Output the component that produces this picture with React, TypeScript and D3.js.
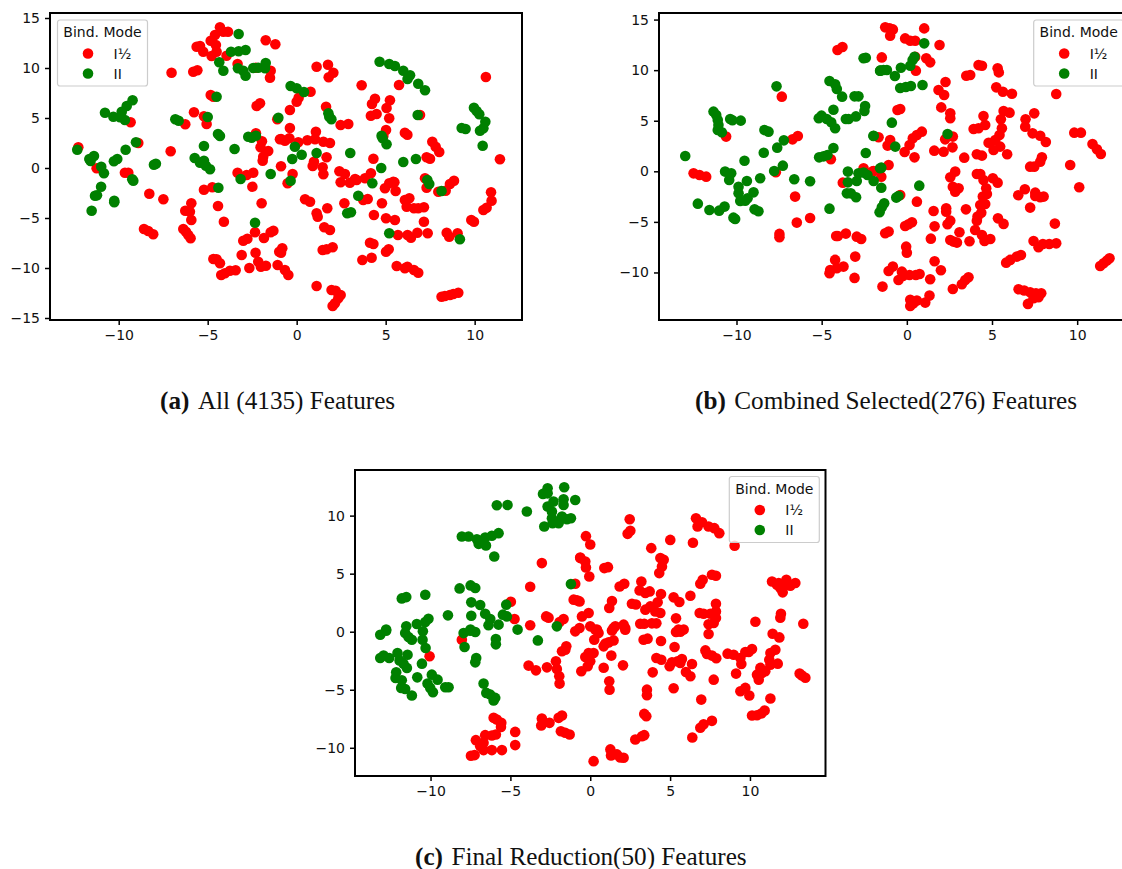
import * as d3 from "d3";
import { useEffect, useRef } from "react";

type Pt = [number, number];

const seriesNames = ["I½", "II"];
const seriesColors = ["red", "green"];
const legendTitle = "Bind. Mode";

// (a) All (4135) Features
const redA: Pt[] = [
  [-12.27,2.07],[-7.03,9.53],[-5.81,9.63],[-5.58,9.77],[-7.08,1.67],[-11.24,-0.03],[-9.33,4.57],[-8.9,2.5],[-9.65,-0.47],[-9.46,-0.47],
  [-6.26,4.37],[-5.77,5.57],[-5.21,5.17],[-5.06,4.4],[-4.83,7.3],[-4.68,7.13],[-5.62,12.13],[-5.43,12.2],[-5.25,11.63],[-4.83,12.73],
  [-4.59,13.3],[-4.31,14.07],[-4.12,13.63],[-3.86,13.63],[-4.54,12.3],[-4.5,11.63],[-4.78,11.2],[-3.94,11.23],[-3.32,10.4],[-1.74,12.77],
  [-1.2,12.37],[-1.46,9.73],[-1.5,9.03],[-2.29,10.03],[-2.25,6.2],[-2.06,6.47],[-2.29,3.47],[-1.95,2.67],[-2.03,2.07],[-1.6,1.7],
  [-1.88,1.13],[-1.91,0.73],[-3.32,-0.47],[-2.81,-0.7],[-2.44,-0.47],[-0.94,2.87],
  [1.12,10.13],[1.76,10.33],[2.06,9.53],[1.8,9.07],[0.78,7.63],[0.11,7.03],[0,6.63],[-0.38,5.8],[-1.09,4.87],[3.65,8.27],
  [5.75,8.3],[10.63,9.1],[4.4,6.93],[4.23,6.4],[5.24,6.77],[5.05,6],[4.17,5.23],[4.49,5.4],[5.2,4.97],[1.65,6.13],
  [2.47,4.3],[2.9,4.4],[5.02,3.8],[4.87,3.2],[6.08,3.53],[6.22,3.33],[7.62,2.63],[7.81,2.13],[8.01,1.6],[7.3,1.07],
  [7.49,0.93],[6.93,5.3],[11.42,0.87],[-0.38,4],[-0.88,2.9],[-0.66,2.73],[-0.41,2.97],[0.09,2.57],[0.6,2.77],[1.03,2.87],
  [1.08,3.63],[1.5,2.63],[1.87,2.5],[1.68,1.07],[0.97,0.63],[0.9,0.2],[1.46,0.07],[1.5,-0.63],[-0.88,0.17],[-0.23,-0.6],
  [4.31,0.93],[2.4,-0.33],[2.71,-0.6],[4.17,-0.53],[3.84,-1.03],[3.28,-1.1],[5.43,-1.37],[7.21,-1.03],
  [-8.28,-2.57],[-7.49,-3.13],[-8.58,-6.1],[-8.34,-6.3],[-8.06,-6.63],[-6.37,-6.1],[-6.22,-6.37],[-6.09,-6.7],[-5.96,-7.03],[-6.26,-4.27],
  [-6,-4.37],[-5.92,-3.53],[-5.92,-5.2],[-5.21,-2.17],[-4.74,-1.93],[-4.42,-3.8],[-4.09,-5.37],[-2.49,-1.87],[-1.97,-3.53],[-2.34,-6.43],
  [-1.84,-7],[-3,-7.27],[-2.77,-7.07],[-1.46,-6.43],[-1.31,-6.27],[-2.31,-8.47],[-3.09,-8.7],[-2.16,-9.37],[-2.01,-9.87],[-1.73,-9.77],
  [-1.07,-9.7],[-4.68,-9.1],[-4.5,-9.13],[-4.31,-9.53],[-4.24,-10.7],[-4.03,-10.53],[-3.75,-10.27],[-3.43,-10.23],[-2.66,-10],[-0.98,-8.37],
  [-0.51,-1.53],[2.47,-1.43],[2.99,-1.47],[3.37,-1.2],[4.96,-2.03],[5.2,-1.53],[5.49,-1.43],[5.56,-2.3],[7.3,-1.97],[7.96,-2.37],
  [8.37,-2.27],[8.61,-1.6],[8.84,-1.27],[3.74,-3.2],[3.99,-3.1],[2.68,-3.53],[1.72,-4.03],[0.47,-3.13],[0.75,-3.37],[1.12,-4.53],
  [1.18,-4.87],[4.79,-3.53],[6.08,-3.2],[6.33,-3.03],[6.18,-3.87],[6.59,-4.03],[6.83,-4.03],[7.15,-3.93],[4.34,-4.7],[5.02,-5.03],
  [5.52,-5.2],[7.15,-5.37],[9.81,-5.2],[9.96,-5.37],[10.49,-4.2],[10.67,-3.97],[10.95,-3.27],[10.92,-2.43],[1.55,-5.93],[1.87,-6.2],
  [5.69,-6.7],[6.23,-6.7],[6.42,-6.97],[6.78,-6.47],[7.36,-6.53],[8.43,-6.47],[8.57,-6.87],[9.04,-6.53],[4.12,-7.47],[4.31,-7.6],
  [-0.81,-8.03],[-0.88,-8.47],[2.02,-7.93],[1.68,-8.13],[1.46,-8.2],[5.02,-8.37],[5.17,-8.13],[3.69,-9.2],[4.21,-8.97],[5.62,-9.8],
  [6.08,-10.03],[6.22,-9.87],[6.59,-10.2],[6.83,-10.47],[-0.66,-10.2],[-0.47,-10.7],[1.12,-11.8],[1.96,-12.2],[2.19,-12.27],[2.47,-12.7],
  [2.34,-13.03],[2.15,-13.53],[2.02,-13.8],[8.14,-12.87],[8.33,-12.8],[8.61,-12.7],[8.8,-12.6],[9.08,-12.47],
];
const greenA: Pt[] = [
  [-12.33,1.83],[-11.65,0.9],[-11.39,1.2],[-11.58,0.7],[-10.98,0.13],[-10.83,-0.53],[-10.27,0.67],[-10.08,0.9],[-9.61,1.83],[-9.03,2.57],
  [-10.77,5.53],[-10.3,5.13],[-9.93,5.07],[-9.65,4.8],[-9.83,5.63],[-9.55,6.2],[-9.22,6.77],[-8.02,0.33],[-7.91,0.43],[-6.82,4.87],
  [-6.63,4.73],[-5.73,1],[-5.43,0.53],[-5.21,0.73],[-5.1,0.23],[-4.87,-0.13],[-5,5.1],[-4.5,7.13],[-4.42,3.4],[-4.31,3.2],
  [-5.21,2.2],[-3.49,1.9],[-2.72,3.13],[-2.53,3.03],[-2.29,3.23],[-4.35,10.57],[-4.12,9.73],[-3.69,11.63],[-3.26,11.67],[-2.87,11.8],
  [-3.26,13.4],[-3.3,9.97],[-3,9.73],[-2.87,9.23],[-2.44,10],[-2.16,10.03],[-1.78,9.97],[-1.74,10.5],[-1.46,-0.6],[-3.15,-1.1],
  [-10.99,-1.87],[-11.33,-2.77],[-11.22,-2.73],[-11.52,-4.27],[-10.25,-3.27],[-10.25,-3.43],[-9.24,-1.13],[-9.18,-1.27],[-4.4,-1.97],[-2.34,-5.47],
  [-1.03,5.03],[-0.34,8.2],[0,7.97],[0.41,7.6],[1.78,5.47],[1.83,5.13],[1.95,4.87],[4.66,10.63],[5.2,10.4],[5.52,10.2],
  [5.99,9.73],[6.37,9.27],[6.23,8.9],[6.83,8.43],[7.21,7.77],[6.8,5.3],[9.96,6.03],[10.11,5.7],[10.26,5.37],[10.6,4.63],
  [10.49,3.97],[10.3,3.73],[9.27,4],[9.49,3.9],[10.45,2.23],[-0.1,2.13],[0.28,1.33],[-0.25,0.9],[1.12,1.5],[3.01,1.5],
  [4.75,0],[5.99,0.6],[6.7,0.9],[4.77,3.23],[4.83,2.97],[5.05,2.37],[-0.34,-1.27],[4.25,-1.53],[3.46,-2.77],[2.84,-4.53],
  [3.05,-4.43],[5.2,-6.53],[7.34,-1.2],[7.45,-1.6],[8.14,-2.3],[9.17,-7.13],
];

// (b) Combined Selected(276) Features
const redB: Pt[] = [
  [-4.07,11.99],[-3.78,12.29],[-7.34,7.38],[-10.61,3.43],[-6.71,3.16],[-6.4,3.49],[-4.46,1.19],[-12.52,-0.2],[-12.17,-0.36],[-11.78,-0.53],
  [-7.69,-0.1],[-1.47,11.26],[-1.66,3.36],[-2.54,0.3],[-1.96,0.03],[-3.76,-1.12],[-6.56,-2.5],[-7.48,-6.19],[-7.48,-6.52],[-6.46,-5.07],
  [-5.68,-4.61],[-4.15,-6.39],[-4.05,-6.39],[-3.58,-6.16],[-2.94,-6.46],[-2.68,-6.69],[-3.03,-8.43],[-4.21,-8.76],[-3.72,-9.42],[-4.11,-9.59],
  [-4.5,-9.75],[-4.54,-10.08],[-3.07,-10.54],
  [-1.27,14.23],[-1.01,14.13],[-0.82,14.03],[-0.98,13.41],[1.02,14.13],[-0.1,13.14],[0.2,12.91],[0.49,12.91],[1.92,12.48],[0.49,11.33],
  [1.14,11.17],[1.37,10.77],[0.53,9.95],[4.21,10.5],[4.41,10.44],[3.49,9.45],[3.72,9.52],[5.33,10.18],[5.4,9.78],[2.27,8.83],
  [1.86,8.04],[2.19,7.54],[5.25,8.3],[5.64,7.87],[6.17,7.67],[8.77,7.64],[-0.39,6.16],[-0.55,6.06],[2.02,6.32],[2.55,5.73],
  [2.55,5.24],[4.5,5.47],[4.6,4.58],[3.92,4.18],[4.21,4.25],[5.68,5.96],[6.03,5.8],[5.52,5.14],[5.58,4.25],[5.44,3.59],
  [5.19,3.1],[4.8,2.83],[5.48,2.44],[5.09,2.11],[5.89,1.68],[6.97,5.14],[6.95,4.41],[7.48,5.73],[7.38,3.75],[7.83,3.52],
  [8.16,2.9],[9.83,3.82],[10.22,3.82],[10.9,2.7],[11.16,2.17],[11.39,1.71],[9.59,0.63],[7.93,1.38],[7.83,0.95],[7.24,0.46],
  [7.48,0.46],[4.11,1.68],[4.41,1.55],[3.37,1.35],[1.61,2.04],[2.16,1.94],[2.68,2.37],[2.25,3.16],[2.7,3.43],[0.88,3.92],
  [0.59,3.59],[0.35,3.26],[0.16,2.6],[-0.13,1.91],[0.45,1.38],[-0.98,3.1],[-1.13,2.54],[-1.07,0.63],[-1.99,0],[-1.5,-0.53],
  [2.84,-0.03],[2.55,-0.59],[4.11,-0.26],[4.31,-0.26],[5.05,-0.69],
  [-2.15,-0.2],[-0.39,-2.34],[0.59,-3],[4.5,-0.86],[5.33,-1.12],[4.66,-1.68],[4.7,-2.24],[4.46,-2.5],[4.6,-3.23],[4.31,-3.33],
  [4.37,-4.09],[4.15,-4.48],[4.11,-4.88],[2.7,-1.52],[2.84,-2.01],[3.04,-1.68],[3.47,-3.76],[2.31,-3.66],[2.31,-3.99],[1.57,-3.92],
  [1.63,-5.44],[2.39,-5.24],[2.55,-4.88],[3.09,-6.03],[1.41,-6.66],[2.55,-6.79],[2.74,-6.95],[2.94,-7.05],[3.68,-6.92],[4.01,-5.8],
  [4.41,-6.29],[4.56,-6.89],[4.9,-6.69],[5.35,-4.65],[5.68,-5.2],[6.54,-2.37],[6.93,-1.78],[7.54,-2.11],[7.54,-2.44],[7.83,-2.57],
  [8.03,-2.5],[7.24,-3.59],[10.12,-1.58],[8.69,-5.17],[7.44,-6.89],[7.73,-7.51],[7.99,-7.18],[8.36,-7.18],[8.77,-7.12],[5.83,-9.03],
  [6.07,-8.76],[6.46,-8.43],[6.7,-8.27],[11.35,-9.36],[11.55,-9.09],[11.74,-8.83],[11.9,-8.6],[6.56,-11.66],[6.89,-11.79],[7.24,-11.96],
  [7.58,-12.06],[7.89,-12.06],[7.73,-12.45],[7.44,-12.55],[7.11,-13.11],[1.37,-10.67],[2,-9.78],[1.63,-8.89],[3.62,-10.48],[3.43,-10.74],
  [3.23,-11.17],[2.7,-11.63],[1.33,-12.29],[1.08,-12.98],[0.59,-12.78],[0.2,-12.71],[0.39,-13.05],[0.2,-13.31],[-1.43,-11.4],[-1.07,-9.85],
  [-0.82,-9.42],[-0.49,-10.74],[-0.29,-9.92],[-0.23,-10.34],[0.16,-10.25],[0.53,-10.25],[0.75,-10.15],[-0.04,-7.45],[0,-8.04],[-1.27,-6.13],
  [-1.07,-5.96],[-0.1,-5.4],[0.1,-5.24],[0.3,-5.04],
];
const greenB: Pt[] = [
  [-13.01,1.51],[-11.35,5.9],[-11.19,5.57],[-11.1,5.07],[-11.06,4.58],[-11.1,4.08],[-10.86,3.85],[-10.37,5.17],[-10.24,5.04],[-9.75,5.01],
  [-9.53,1.05],[-8.4,1.84],[-8.36,4.08],[-8.12,3.92],[-7.65,8.4],[-7.22,3.06],[-7.61,2.34],[-7.28,0.56],[-7.79,0.03],[-10.67,-0.03],
  [-10.31,-0.2],[-5.15,1.38],[-4.89,1.48],[-4.66,1.61],[-4.31,2.31],[-5.17,5.24],[-5.01,5.5],[-4.7,5.17],[-4.44,4.84],[-4.21,4.25],
  [-4.31,6.09],[-4.54,8.93],[-4.21,8.6],[-4.11,8.14],[-3.8,7.38],[-3.07,7.41],[-2.84,7.41],[-3.58,5.17],[-3.42,5.17],[-2.99,5.43],
  [-2.49,5.96],[-2.45,6.46],[-2.54,11.17],[-2.41,11.23],[-1.57,9.95],[-1.96,3.49],[-2.41,1.81],[-1.57,0.3],[-3.46,-0.03],[-2.84,-0.2],
  [-2.54,-0.13],[-2.31,-0.36],
  [-10.43,-0.86],[-9.39,-0.96],[-8.61,-0.69],[-6.61,-0.79],[-5.68,-0.99],[-9.88,-1.52],[-9.88,-2.18],[-9,-2.08],[-9.78,-2.93],[-9.49,-2.9],
  [-9.35,-2.67],[-12.27,-3.2],[-11.59,-3.82],[-11.02,-3.89],[-10.7,-3.49],[-10.18,-4.58],[-10.08,-4.71],[-8.94,-3.76],[-8.71,-3.95],[-4.54,-3.69],
  [-3.46,-1.09],[-2.94,-0.96],[-3.52,-2.18],[-3.29,-2.18],[-2.98,-2.57],
  [1.02,12.65],[0.45,11.33],[0.34,11],[0.2,10.44],[-0.35,10.24],[-1.17,10.01],[-1.37,10.01],[-1.56,9.95],[-0.7,9.42],[-0.39,8.23],
  [-0.06,8.33],[0.24,8.43],[0.92,8.53],[-0.88,4.81],[-1.95,3.52],[-0.68,2.44],[2.39,3.69],[-1.5,0.36],
  [-1.95,-0.96],[-1.5,-1.62],[0.73,-1.42],[-0.62,-2.6],[-0.49,-2.44],[-1.33,-3.16],[-1.47,-3.56],[-1.6,-4.05],
];

// (c) Final Reduction(50) Features
const redC: Pt[] = [
  [-3.03,5.91],[-0.63,6.39],[-3.76,3.87],[-0.94,4.13],[-0.83,2.7],[-4.97,2.58],[-4.74,1.09],[-2.76,1.32],[-2.61,1.21],[-1.67,1.09],
  [-1.92,0.84],[-3.76,0.55],[-8.04,-0.69],[-10.06,-2.12],
  [-3.86,-2.92],[-3.4,-3.33],[-2.71,-3.07],[-2.15,-2.55],[-2.09,-3.21],[-1.94,-3.84],[-1.92,-4.47],[-1.77,-1.69],[-1.5,-1.26],[-1.56,-1.55],
  [-0.94,0.03],[-0.56,-3.41],[-6.05,-7.42],[-5.85,-7.57],[-5.57,-7.85],[-5.59,-8.2],[-4.7,-8.63],[-4.7,-9.77],[-3.03,-7.48],[-3.07,-8.08],
  [-2.55,-7.85],[-1.98,-7.42],[-1.77,-7.22],[-1.84,-8.57],[-1.57,-8.71],[-1.29,-8.86],[-6.58,-8.91],[-6.16,-8.94],[-5.91,-8.86],[-7.16,-9.34],
  [-6.68,-9.57],[-6.89,-9.86],[-6.68,-10.2],[-6.16,-10.2],[-5.53,-10.2],[-7.47,-10.69],[-7.24,-10.63],
  [2.47,9.69],[2.51,8.69],[2.34,8.43],[-0.27,8.23],[0,7.51],[5.01,7.91],[3.82,7.2],[6.43,7.66],[6.62,9.78],[7,9.43],
  [6.72,9.06],[7.41,9.06],[7.77,8.92],[8.08,8.49],[9.04,7.4],[-0.62,6.34],[-0.31,6.05],[-0.27,5.54],[-0.06,4.76],[0.88,5.48],
  [1.11,5.56],[4.39,6.34],[4.6,6.19],[4.49,5.62],[4.32,5.05],[7.62,4.9],[7.87,4.82],[7.04,4.47],[6.89,4.13],[2.13,4.13],
  [1.84,3.9],[3.2,4.33],[3.09,3.56],[3.45,3.33],[3.72,3.47],[4.43,3.24],[6.27,3.1],[5.22,2.96],[5.58,2.56],[11.38,4.33],
  [11.69,4.05],[12.28,4.47],[12.84,4.19],[12.53,3.96],[11.9,3.76],[12.05,3.39],[11.8,4.19],[12.22,4.05],[1.36,2.64],[1.19,2.04],
  [2.61,2.41],[2.86,2.35],[3.45,1.9],[3.76,2.18],[4.22,2.53],[4.07,1.75],[4.39,1.61],[7.87,2.41],[7.87,1.75],[6.85,1.61],
  [7.1,1.55],[7.52,1.55],[7.87,1.18],[7.73,0.75],[7.41,0.64],[11.94,1.55],[11.9,1.21],[10.34,0.86],[13.34,0.69],[5.37,1.15],
  [-1.04,2.76],[-0.67,2.61],[-0.52,1.32],[-0.1,1.61],[-0.67,0.32],[0,0.46],[0.42,0.18],[1.46,0.32],[2.09,0.61],[2.19,0.32],
  [3.13,0.69],[3.38,0.69],[3.86,0.72],[4.14,0.72],[5.53,0.18],[5.85,0.18],
  [0.32,0.17],[0.52,-0.12],[0.25,-0.69],[1.36,0.11],[1.57,0.46],[2.19,0.17],[3.34,-0.69],[3.59,-0.6],[4.43,-0.8],[5.37,-0.03],
  [5.64,0],[5.28,-1.32],[7.41,-0.2],[0.94,-1.03],[1.15,-0.92],[1.46,-0.75],[0.84,-1.26],[1.32,-2.06],[2.05,-2.9],[0.84,-3.1],
  [0.21,-1.84],[-0.1,-1.84],[-0.31,-2.18],[0,-2.55],[-0.16,-2.98],[1.19,-4.27],[1.21,-4.99],[3.91,-3.5],[4.14,-2.27],[4.45,-2.41],
  [4.97,-2.98],[5.12,-2.64],[5.47,-2.55],[5.74,-2.35],[5.64,-2.7],[6.37,-2.78],[5.99,-3.47],[6.27,-3.84],[5.22,-4.87],[7.21,-1.61],
  [7.31,-1.92],[7.62,-2.06],[7.89,-2.29],[7.73,-4.13],[6.95,-5.85],[8.6,-1.89],[8.98,-1.98],[9.4,-2.27],[9.46,-2.78],[9.71,-1.75],
  [10.13,-1.49],[9.92,-1.75],[9.13,-3.61],[9.4,-5.13],[9.71,-4.84],[9.96,-5.5],[11.28,-5.76],[10.13,-7.22],[10.44,-7.2],[10.71,-7.05],
  [10.92,-6.79],[10.44,-3.7],[10.55,-4.13],[10.65,-3.12],[10.96,-3.41],[10.75,-3.55],[11.28,-1.84],[11.59,-1.55],[11.21,-2.41],[11.28,-2.84],
  [11.74,-2.75],[11.42,-0.17],[11.84,-0.49],[13.11,-3.61],[13.26,-3.78],[13.47,-3.96],[3.55,-4.99],[3.55,-5.47],[3.38,-7.08],[3.51,-7.28],
  [2.82,-9.29],[3.24,-9],[3.38,-8.91],[1.26,-10.14],[1.3,-10.66],[1.67,-10.57],[1.88,-10.83],[2.09,-10.86],[0.21,-11.15],[6.39,-9.11],
  [6.89,-8.28],[7.1,-7.98],[7.62,-7.68],
];
const greenC: Pt[] = [
  [-2.67,12.35],[-2.96,11.87],[-2.67,11.92],[-1.63,12.44],[-1.67,11.41],[-1.67,10.92],[-0.94,11.35],[-2.3,11.21],[-2.67,10.78],[-2.4,10.35],
  [-3.97,10.35],[-5.85,10.89],[-5.18,10.92],[-2.4,9.78],[-2.88,9.06],[-2.36,9.35],[-1.98,9.35],[-1.77,9.92],[-1.46,9.69],[-1.21,9.78],
  [-8.04,8.2],[-7.62,8.2],[-7.1,7.97],[-6.58,8.11],[-6.16,8.26],[-5.74,8.49],[-6.99,7.57],[-6.53,7.43],[-6.01,6.48],[-8.18,3.73],
  [-7.49,3.99],[-7.2,3.76],[-11.8,2.87],[-11.52,2.98],[-10.33,3.19],[-7.45,2.53],[-6.89,2.3],[-5.26,2.33],[-1.21,4.1],[-7.45,1.38],
  [-6.58,1.55],[-6.26,1.09],[-5.47,1.47],[-5.22,1.32],[-8.91,1.41],[-10.13,1.12],[-10.33,0.84],[-10.86,0.66],[-11.52,0.46],[-6.37,0.55],
  [-5.74,0.61],[-2.09,0.46],[-4.55,0.18],[-12.78,0.18],[-7.5,0.18],
  [-13.15,-0.26],[-12.78,0.08],[-11.59,-0.12],[-11.38,-0.46],[-11.17,-0.69],[-10.48,0.03],[-10.5,-0.69],[-10.31,-1.41],[-7.93,-0.12],[-7.52,0.08],
  [-7.2,-0.03],[-7.87,-1.32],[-5.91,-0.63],[-5.91,-1.09],[-3.28,-0.75],[-7.14,-2.27],[-7.2,-2.64],[-13.15,-2.27],[-12.94,-2.06],[-12.59,-2.27],
  [-12.07,-1.84],[-11.44,-1.98],[-11.94,-2.47],[-11.69,-2.75],[-11.48,-3.12],[-10.54,-2.75],[-12.15,-3.5],[-12.19,-3.98],[-11.8,-4.18],[-11.84,-4.84],
  [-11.59,-4.93],[-11.17,-5.5],[-10.83,-3.93],[-9.92,-3.7],[-9.56,-4.13],[-10.19,-4.47],[-10.02,-4.84],[-9.85,-5.22],[-9.08,-4.79],[-8.87,-4.79],
  [-6.68,-4.47],[-6.51,-5.27],[-6.26,-5.42],[-5.95,-5.7],[-6.05,-5.93],
];

const xTicks = [-10, -5, 0, 5, 10];
const yTicksAB = [-15, -10, -5, 0, 5, 10, 15];
const yTicksB = [-10, -5, 0, 5, 10, 15];
const yTicksC = [-10, -5, 0, 5, 10];

const tickFont = "'DejaVu Sans', sans-serif";
const markerR = 5.3;

function Panel({ red, green, xDomain, yDomain, yTicks, left, right, top, bottom, legendX, legendY }: {
  red: Pt[]; green: Pt[]; xDomain: number[]; yDomain: number[]; yTicks: number[];
  left: number; right: number; top: number; bottom: number; legendX: number; legendY: number;
}) {
  const gx = useRef<SVGGElement>(null);
  const gy = useRef<SVGGElement>(null);
  const x = d3.scaleLinear(xDomain, [left, right]);
  const y = d3.scaleLinear(yDomain, [bottom, top]);

  useEffect(() => {
    const ax = d3.select(gx.current!).call(d3.axisBottom(x).tickValues(xTicks).tickSize(5).tickPadding(5).tickSizeOuter(0));
    const ay = d3.select(gy.current!).call(d3.axisLeft(y).tickValues(yTicks).tickSize(5).tickPadding(5).tickSizeOuter(0));
    [ax, ay].forEach((a) => {
      a.select(".domain").remove();
      a.selectAll(".tick line").attr("stroke", "#000").attr("stroke-width", 1.5);
      a.selectAll(".tick text").attr("font-family", tickFont).attr("font-size", 14).attr("fill", "#111");
    });
  }, []);

  return (
    <g>
      <g ref={gx} transform={`translate(0,${bottom})`} />
      <g ref={gy} transform={`translate(${left},0)`} />
      <g fill={seriesColors[0]}>
        {red.map((d, i) => <circle key={i} cx={x(d[0])} cy={y(d[1])} r={markerR} />)}
      </g>
      <g fill={seriesColors[1]}>
        {green.map((d, i) => <circle key={i} cx={x(d[0])} cy={y(d[1])} r={markerR} />)}
      </g>
      <rect x={left} y={top} width={right - left} height={bottom - top} fill="none" stroke="#000" strokeWidth={2} />
      <g transform={`translate(${legendX},${legendY})`} fontFamily={tickFont} fontSize={14} fill="#111">
        <rect x={0} y={0} width={90} height={66} rx={2.5} fill="#fff" fillOpacity={0.8} stroke="#ccc" strokeWidth={1.2} />
        <text x={45} y={17} textAnchor="middle">{legendTitle}</text>
        {seriesNames.map((name, i) => (
          <g key={name}>
            <circle cx={30.5} cy={33.5 + i * 20} r={markerR} fill={seriesColors[i]} />
            <text x={56} y={38.5 + i * 20}>{name}</text>
          </g>
        ))}
      </g>
    </g>
  );
}

function Caption({ x, y, tag, text }: { x: number; y: number; tag: string; text: string }) {
  return (
    <text x={x} y={y} fontFamily="'Liberation Serif', serif" fontSize={25.2} fill="#111">
      <tspan fontWeight="bold">{tag}</tspan>
      <tspan dx={8.5}>{text}</tspan>
    </text>
  );
}

export default function App() {
  return (
    <svg width={1122} height={869} style={{ position: "absolute", left: 0, top: 0 }}>
      <rect width={1122} height={869} fill="#fff" />
      <Panel red={redA} green={greenA} xDomain={[-13.86, 12.66]} yDomain={[-15.2, 15.5]} yTicks={yTicksAB}
        left={50} right={522} top={13} bottom={320} legendX={57.5} legendY={20} />
      <Panel red={redB} green={greenB} xDomain={[-14.55, 13.16]} yDomain={[-14.7, 15.65]} yTicks={yTicksB}
        left={659} right={1131} top={13} bottom={320} legendX={1033.7} legendY={20} />
      <Panel red={redC} green={greenC} xDomain={[-14.73, 14.73]} yDomain={[-12.43, 13.93]} yTicks={yTicksC}
        left={355} right={825.5} top={470} bottom={776} legendX={729.3} legendY={476.5} />
      <Caption x={160} y={409} tag="(a)" text="All (4135) Features" />
      <Caption x={695} y={409} tag="(b)" text="Combined Selected(276) Features" />
      <Caption x={415} y={865} tag="(c)" text="Final Reduction(50) Features" />
    </svg>
  );
}
